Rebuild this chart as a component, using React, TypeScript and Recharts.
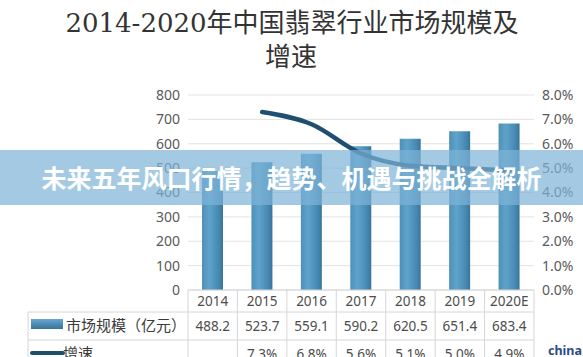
import { ComposedChart, Bar, Line, XAxis, YAxis, CartesianGrid } from 'recharts';

const years = ['2014', '2015', '2016', '2017', '2018', '2019', '2020E'];
const marketSize = [488.2, 523.7, 559.1, 590.2, 620.5, 651.4, 683.4];
const growthRate = [null, 7.3, 6.8, 5.6, 5.1, 5.0, 4.9];
const sizeTicks = [0, 100, 200, 300, 400, 500, 600, 700, 800];
const rateTicks = [0, 1, 2, 3, 4, 5, 6, 7, 8];

const data = years.map((year, i) => ({ year, size: marketSize[i], rate: growthRate[i] }));

const W = 583;
const H = 357;
const PLOT_LEFT = 188;
const PLOT_RIGHT = 534;
const BAND = (PLOT_RIGHT - PLOT_LEFT) / years.length;
const GRID = '#d6d6d6';
const TEXT = '#4d4d4d';
const NUM_FONT = '"Noto Sans", "Liberation Sans", sans-serif';
const CJK_FONT = '"Noto Sans CJK SC", sans-serif';

const fmtRate = (v: number | null) => (v == null ? '' : `${v.toFixed(1)}%`);

// table cell under each category: year, market size, growth
const TableTick = (props: any) => {
  const { x, y, payload } = props;
  const i = payload.index;
  const left = x - BAND / 2;
  const last = i === years.length - 1;
  return (
    <g>
      <line x1={left} x2={left} y1={y} y2={y + 78} stroke={GRID} />
      {last && <line x1={left + BAND} x2={left + BAND} y1={y} y2={y + 78} stroke={GRID} />}
      <line x1={left} x2={left + BAND} y1={y + 22} y2={y + 22} stroke={GRID} />
      <line x1={left} x2={left + BAND} y1={y + 50} y2={y + 50} stroke={GRID} />
      <text x={x} y={y + 16} textAnchor="middle" fontSize={13.5} fill={TEXT} fontFamily={NUM_FONT}>
        {payload.value}
      </text>
      <text x={x} y={y + 41} textAnchor="middle" fontSize={13.5} fill={TEXT} fontFamily={NUM_FONT}>
        {marketSize[i].toFixed(1)}
      </text>
      <text x={x} y={y + 69} textAnchor="middle" fontSize={13.5} fill={TEXT} fontFamily={NUM_FONT}>
        {fmtRate(growthRate[i])}
      </text>
    </g>
  );
};

export default function App() {
  return (
    <div style={{ position: 'fixed', left: 0, top: 0, width: W, height: H, background: '#fff', overflow: 'hidden' }}>
      <ComposedChart width={W} height={H} data={data} margin={{ top: 95, right: 0, bottom: 0, left: 0 }}>
        <defs>
          <linearGradient id="barFill" x1="0" y1="0" x2="1" y2="0">
            <stop offset="0%" stopColor="#4f8fb8" />
            <stop offset="35%" stopColor="#5fa3cb" />
            <stop offset="80%" stopColor="#4688b1" />
            <stop offset="100%" stopColor="#3a7499" />
          </linearGradient>
        </defs>
        <CartesianGrid vertical={false} stroke="#e3e3e3" yAxisId="left" />
        <XAxis
          dataKey="year"
          height={67}
          interval={0}
          tickSize={0}
          tickMargin={0}
          tickLine={false}
          axisLine={{ stroke: GRID }}
          tick={<TableTick />}
        />
        <YAxis
          yAxisId="left"
          width={188}
          domain={[0, 800]}
          ticks={sizeTicks}
          axisLine={false}
          tickLine={false}
          tick={{ fontSize: 14, fill: '#595959', fontFamily: NUM_FONT }}
        />
        <YAxis
          yAxisId="right"
          orientation="right"
          width={49}
          domain={[0, 8]}
          ticks={rateTicks}
          axisLine={false}
          tickLine={false}
          tickFormatter={(v: number) => fmtRate(v)}
          tick={{ fontSize: 14, fill: '#595959', fontFamily: NUM_FONT }}
        />
        <Bar yAxisId="left" dataKey="size" barSize={21} fill="url(#barFill)" isAnimationActive={false} />
        <Line
          yAxisId="right"
          type="monotone"
          dataKey="rate"
          stroke="#1f4f6e"
          strokeWidth={4.5}
          strokeLinecap="round"
          dot={false}
          activeDot={false}
          isAnimationActive={false}
        />
      </ComposedChart>

      <svg width={W} height={H} style={{ position: 'absolute', left: 0, top: 0, pointerEvents: 'none' }}>
        <text x={292} y={32} textAnchor="middle" fontSize={26} fill="#333" fontFamily={`"DejaVu Serif", ${CJK_FONT}`}>
          2014-2020年中国翡翠行业市场规模及
        </text>
        <text x={291} y={66} textAnchor="middle" fontSize={26} fill="#333" fontFamily={CJK_FONT}>
          增速
        </text>

        {/* left column of the data table */}
        <line x1={28} x2={PLOT_LEFT} y1={312} y2={312} stroke={GRID} />
        <line x1={28} x2={PLOT_LEFT} y1={340} y2={340} stroke={GRID} />
        <line x1={28} x2={28} y1={312} y2={H} stroke={GRID} />
        <rect x={31} y={319} width={32} height={10} fill="url(#legendFill)" />
        <defs>
          <linearGradient id="legendFill" x1="0" y1="0" x2="0" y2="1">
            <stop offset="0%" stopColor="#6aa8cf" />
            <stop offset="50%" stopColor="#4c8db6" />
            <stop offset="100%" stopColor="#3b7398" />
          </linearGradient>
        </defs>
        <text x={66} y={331} fontSize={15} fill="#3a3a3a" fontFamily={CJK_FONT}>
          市场规模（亿元）
        </text>
        <line x1={32} x2={63} y1={353} y2={353} stroke="#1f4f6e" strokeWidth={4} strokeLinecap="round" />
        <text x={63} y={359} fontSize={15} fill="#3a3a3a" fontFamily={CJK_FONT}>
          增速
        </text>

        <text x={548} y={355} fontSize={12.5} fontWeight="bold" fill="#2b4c86" fontFamily={NUM_FONT}>
          china
        </text>
      </svg>

      <div
        style={{
          position: 'absolute',
          left: 0,
          top: 150,
          width: W,
          height: 55,
          background: 'rgba(125, 180, 215, 0.7)',
          color: '#fff',
          fontFamily: CJK_FONT,
          fontWeight: 700,
          fontSize: 25,
          lineHeight: '55px',
          textAlign: 'center',
          whiteSpace: 'nowrap',
        }}
      >
        未来五年风口行情，趋势、机遇与挑战全解析
      </div>
    </div>
  );
}
